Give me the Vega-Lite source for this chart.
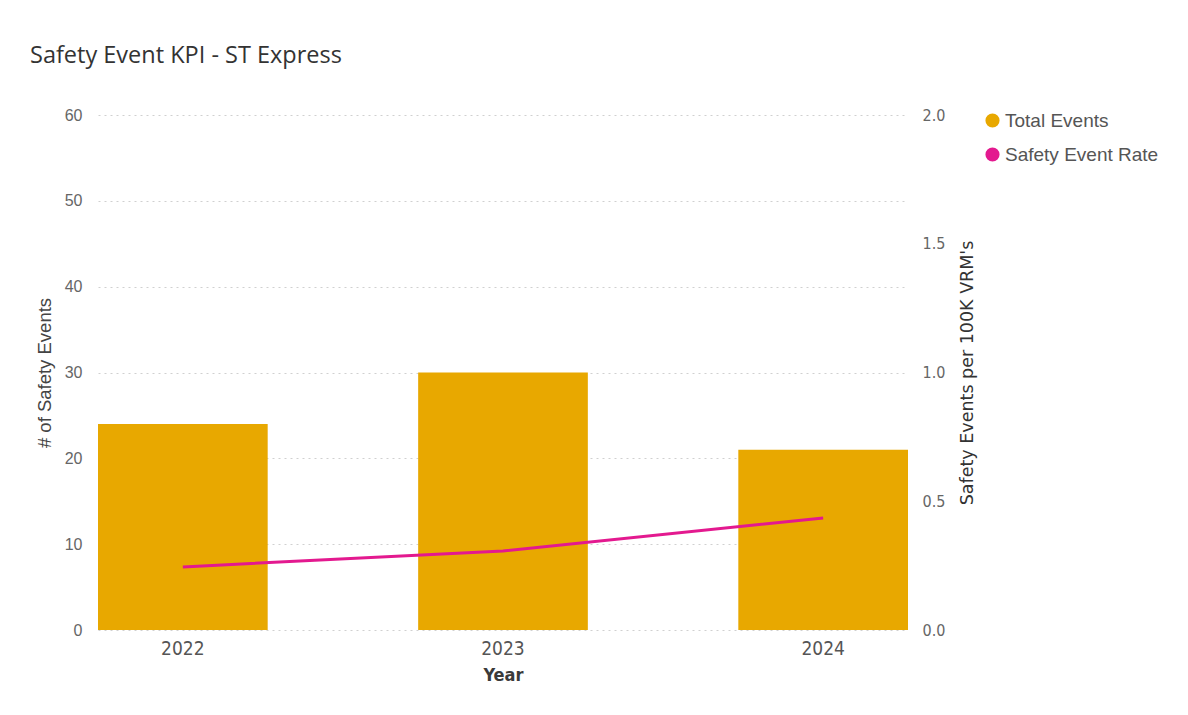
{
  "$schema": "https://vega.github.io/schema/vega-lite/v6.json",
  "width": 810,
  "height": 515,
  "autosize": {"type": "none"},
  "padding": {"left": 98, "top": 115, "right": 280, "bottom": 70},
  "background": "white",
  "title": {
    "text": "Safety Event KPI - ST Express",
    "anchor": "start",
    "frame": "group",
    "dx": -68,
    "offset": 40,
    "fontSize": 23.5,
    "font": "Open Sans",
    "fontWeight": "normal",
    "color": "#333333"
  },
  "data": {
    "values": [
      {"Year": "2022", "events": 24, "rate": 0.245},
      {"Year": "2023", "events": 30, "rate": 0.307},
      {"Year": "2024", "events": 21, "rate": 0.435}
    ]
  },
  "encoding": {
    "x": {
      "field": "Year",
      "type": "nominal",
      "scale": {"paddingInner": 0.47, "paddingOuter": 0},
      "axis": {
        "title": "Year",
        "labelAngle": 0,
        "domain": false,
        "ticks": false,
        "labelPadding": 9,
        "labelFontSize": 19,
        "labelFont": "DejaVu Sans Condensed",
        "labelColor": "#555555",
        "titleFontSize": 18,
        "titleFont": "DejaVu Sans Condensed",
        "titleFontWeight": "bold",
        "titleColor": "#3a3a3a",
        "titlePadding": 8
      }
    }
  },
  "layer": [
    {
      "mark": {"type": "bar"},
      "encoding": {
        "y": {
          "field": "events",
          "type": "quantitative",
          "scale": {"domain": [0, 60]},
          "axis": {
            "title": "# of Safety Events",
            "values": [0, 10, 20, 30, 40, 50, 60],
            "domain": false,
            "ticks": false,
            "labelPadding": 16,
            "labelFontSize": 16,
            "labelFont": "Liberation Sans",
            "labelColor": "#666666",
            "grid": true,
            "gridDash": [2, 4],
            "gridColor": "#d0d0d0",
            "titleFontSize": 18.5,
            "titleFont": "Liberation Sans",
            "titleFontWeight": "normal",
            "titleColor": "#444444",
            "titlePadding": 10
          }
        },
        "color": {"datum": "Total Events", "type": "nominal"}
      }
    },
    {
      "mark": {"type": "line", "strokeWidth": 3},
      "encoding": {
        "y": {
          "field": "rate",
          "type": "quantitative",
          "scale": {"domain": [0, 2]},
          "axis": {
            "orient": "right",
            "title": "Safety Events per 100K VRM's",
            "titleAngle": 270,
            "titleBaseline": "top",
            "values": [0, 0.5, 1, 1.5, 2],
            "format": ".1f",
            "domain": false,
            "ticks": false,
            "grid": false,
            "labelPadding": 14,
            "labelFontSize": 16,
            "labelFont": "DejaVu Sans Condensed",
            "labelColor": "#666666",
            "titleFontSize": 17.5,
            "titleFont": "DejaVu Sans",
            "titleFontWeight": "normal",
            "titleColor": "#333333",
            "titlePadding": 14
          }
        },
        "color": {"datum": "Safety Event Rate", "type": "nominal"}
      }
    }
  ],
  "resolve": {"scale": {"y": "independent"}, "axis": {"y": "independent"}},
  "config": {
    "view": {"stroke": null},
    "range": {"category": ["#E8A800", "#E3198F"]},
    "legend": {
      "orient": "none",
      "legendX": 885,
      "legendY": -4,
      "title": null,
      "symbolType": "circle",
      "symbolSize": 200,
      "symbolStrokeWidth": 0,
      "labelFontSize": 19,
      "labelFont": "Liberation Sans",
      "labelColor": "#555555",
      "labelOffset": 3,
      "rowPadding": 14
    }
  }
}
